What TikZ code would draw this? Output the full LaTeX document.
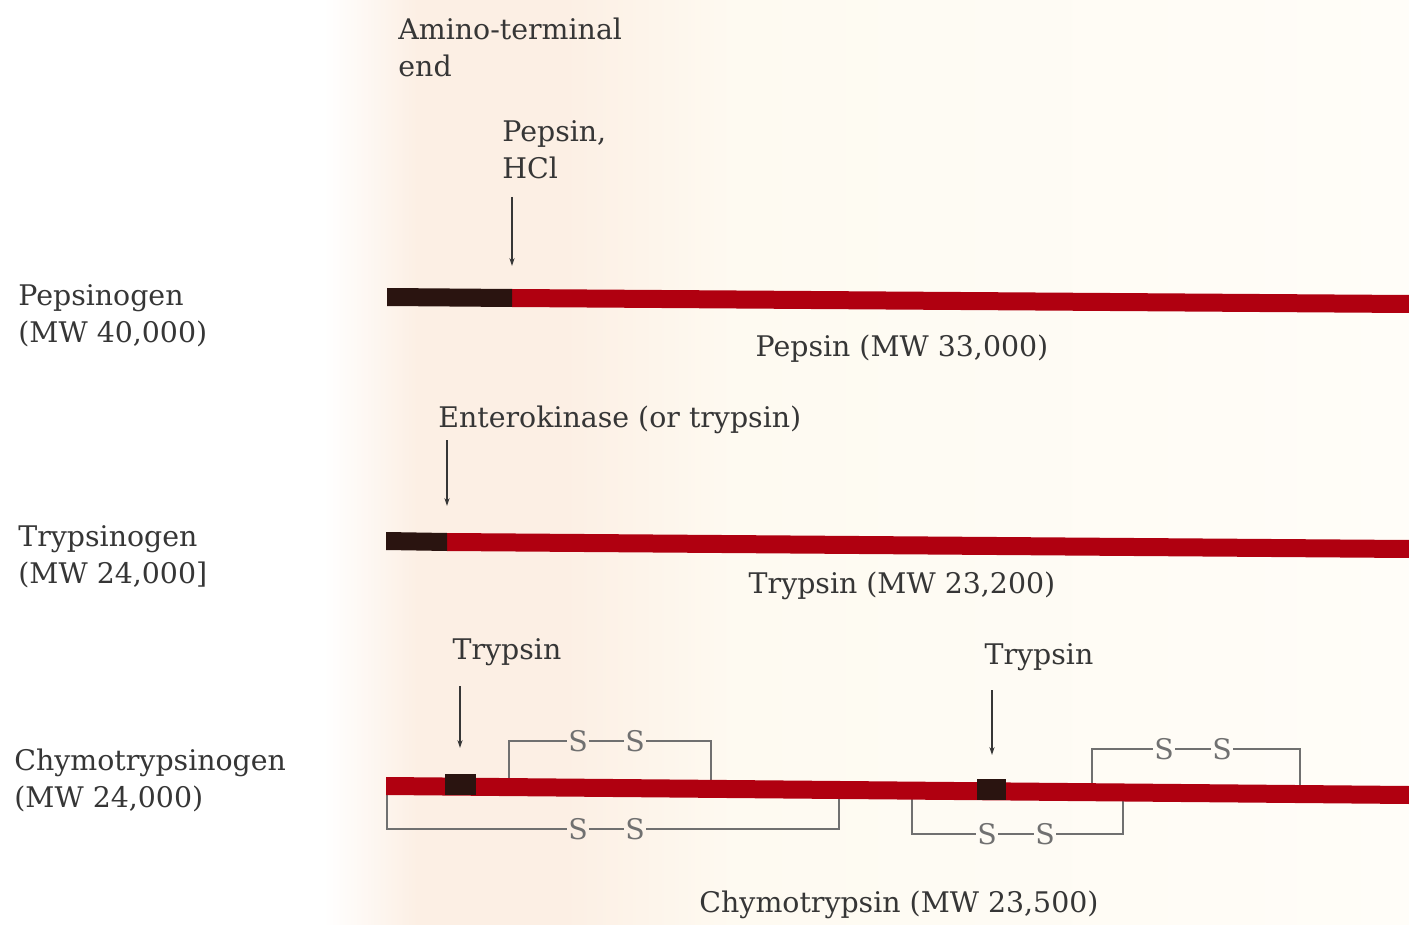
\documentclass[tikz,border=0pt]{standalone}
\usepackage{fontspec}
\setmainfont{DejaVu Serif}
\usetikzlibrary{arrows.meta}
\definecolor{txt}{HTML}{363636}
\definecolor{barred}{HTML}{B00010}
\definecolor{barblack}{HTML}{2A1410}
\definecolor{bond}{HTML}{707070}
\definecolor{peach}{HTML}{FCEFE4}
\definecolor{cream}{HTML}{FEFAF1}
\definecolor{creamr}{HTML}{FFFDF8}
\pgfdeclarehorizontalshading{paperbg}{100bp}{color(0bp)=(white); color(36.5bp)=(white); color(39.8bp)=(peach); color(45bp)=(peach); color(51bp)=(cream); color(75bp)=(creamr); color(100bp)=(creamr)}
\begin{document}
\begin{tikzpicture}[x=0.5pt,y=-0.5pt,
  lbl/.style={inner sep=0pt, text=txt, font=\fontsize{14.2}{18.5}\selectfont, align=left},
  sbond/.style={inner sep=0.5pt, text=bond, font=\fontsize{14.2}{16}\selectfont},
  bondline/.style={draw=bond, line width=0.9pt},
  cut/.style={draw=txt, line width=0.6pt, -{Stealth[length=4pt,width=2.6pt]}},
  redbar/.style={fill=barred},
  blackbar/.style={fill=barblack}]
\useasboundingbox (0,0) rectangle (1409,925);
\shade[shading=paperbg] (0,0) rectangle (1409,925);

% ---------- labels ----------
\node[lbl, anchor=west] (amino) at (398,47) {Amino-terminal\\end};
\node[lbl, anchor=west] (pephcl) at (502,150) {Pepsin,\\HCl};
\node[lbl, anchor=west] (pepsinogen) at (18,316) {Pepsinogen\\(MW 40,000)};
\node[lbl] (pepsin) at (902,349) {Pepsin (MW 33,000)};
\node[lbl, anchor=west] (entero) at (438,420) {Enterokinase (or trypsin)};
\node[lbl, anchor=west] (trypsinogen) at (18,557) {Trypsinogen\\(MW 24,000]};
\node[lbl] (trypsin) at (902,586) {Trypsin (MW 23,200)};
\node[lbl] (tr1) at (507,652) {Trypsin};
\node[lbl] (tr2) at (1039,657) {Trypsin};
\node[lbl, anchor=west] (chymogen) at (14,780) {Chymotrypsinogen\\(MW 24,000)};
\node[lbl] (chymo) at (899,905) {Chymotrypsin (MW 23,500)};

% ---------- cleavage arrows ----------
\coordinate (a1s) at (512,197); \coordinate (a1e) at (512,266);
\coordinate (a2s) at (447,440); \coordinate (a2e) at (447,506);
\coordinate (a3s) at (460,686); \coordinate (a3e) at (460,748);
\coordinate (a4s) at (992,690); \coordinate (a4e) at (992,755);
\draw[cut] (a1s) -- (a1e);
\draw[cut] (a2s) -- (a2e);
\draw[cut] (a3s) -- (a3e);
\draw[cut] (a4s) -- (a4e);

% ---------- disulfide bridges (drawn under the chain) ----------
% bridge 1 (above)
\node[sbond] (s1a) at (578,741) {S};
\node[sbond] (s1b) at (635,741) {S};
\coordinate (b1l) at (509,786); \coordinate (b1r) at (711,787);
\draw[bondline] (b1l) |- (s1a.west);
\draw[bondline] (s1a.east) -- (s1b.west);
\draw[bondline] (s1b.east) -| (b1r);
% bridge 2 (below)
\node[sbond] (s2a) at (578,829) {S};
\node[sbond] (s2b) at (635,829) {S};
\coordinate (b2l) at (387,792); \coordinate (b2r) at (839,789);
\draw[bondline] (b2l) |- (s2a.west);
\draw[bondline] (s2a.east) -- (s2b.west);
\draw[bondline] (s2b.east) -| (b2r);
% bridge 3 (below)
\node[sbond] (s3a) at (987,834) {S};
\node[sbond] (s3b) at (1045,834) {S};
\coordinate (b3l) at (912,791); \coordinate (b3r) at (1123,792);
\draw[bondline] (b3l) |- (s3a.west);
\draw[bondline] (s3a.east) -- (s3b.west);
\draw[bondline] (s3b.east) -| (b3r);
% bridge 4 (above)
\node[sbond] (s4a) at (1164,749) {S};
\node[sbond] (s4b) at (1222,749) {S};
\coordinate (b4l) at (1092,792); \coordinate (b4r) at (1300,794);
\draw[bondline] (b4l) |- (s4a.west);
\draw[bondline] (s4a.east) -- (s4b.west);
\draw[bondline] (s4b.east) -| (b4r);

% ---------- polypeptide chains ----------
% pepsinogen
\fill[redbar] (512,289) -- (1409,295) -- (1409,313) -- (512,307) -- cycle;
\fill[blackbar] (387,288) -- (512,289) -- (512,307) -- (387,306) -- cycle;
% trypsinogen
\fill[redbar] (447,533) -- (1409,540) -- (1409,558) -- (447,551) -- cycle;
\fill[blackbar] (386,532) -- (447,533) -- (447,551) -- (386,550) -- cycle;
% chymotrypsinogen
\fill[redbar] (386,777) -- (1409,786) -- (1409,804) -- (386,795) -- cycle;
\fill[blackbar] (445,774) -- (476,774) -- (476,795) -- (445,795) -- cycle;
\fill[blackbar] (977,779) -- (1006,779) -- (1006,800) -- (977,800) -- cycle;
\end{tikzpicture}
\end{document}
